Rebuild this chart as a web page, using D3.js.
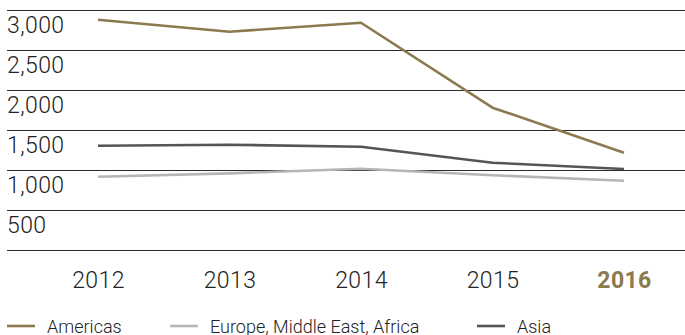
<!DOCTYPE html>
<html>
<head>
<meta charset="utf-8">
<script src="https://cdn.jsdelivr.net/npm/d3@7"></script>
<style>
  html, body { margin: 0; padding: 0; background: #fff; }
  svg { display: block; font-family: Roboto, "Liberation Sans", Arial, sans-serif; font-weight: 300; }
</style>
</head>
<body>
<svg id="chart" width="685" height="335"></svg>
<script>
// Sales by region, 2012–2016
const years = ["2012", "2013", "2014", "2015", "2016"];
const americas = [2879, 2729, 2841, 1779, 1216];
const emea = [916, 958, 1016, 934, 866];
const asia = [1304, 1316, 1291, 1091, 1012];
const yTicks = [0, 500, 1000, 1500, 2000, 2500, 3000];
const seriesNames = ["Americas", "Europe, Middle East, Africa", "Asia"];
const seriesColors = ["#8b7a50", "#b5b5b5", "#555555"];

const series = [
  { name: seriesNames[0], values: americas, color: seriesColors[0] },
  { name: seriesNames[1], values: emea, color: seriesColors[1] },
  { name: seriesNames[2], values: asia, color: seriesColors[2] }
];

const svg = d3.select("#chart");
const gridLeft = 7, gridRight = 685;

const x = d3.scalePoint().domain(years).range([98, 624]);
const y = d3.scaleLinear().domain([0, 3000]).range([250, 10]);

// Horizontal gridlines with labels sitting just under each line
const grid = svg.append("g");
grid.selectAll("line")
  .data(yTicks)
  .join("line")
  .attr("x1", gridLeft).attr("x2", gridRight)
  .attr("y1", d => Math.round(y(d)) + 0.5)
  .attr("y2", d => Math.round(y(d)) + 0.5)
  .attr("stroke", "#2a2a2a")
  .attr("stroke-width", 1);

grid.selectAll("text")
  .data(yTicks.filter(d => d > 0))
  .join("text")
  .attr("x", gridLeft)
  .attr("y", d => y(d) + 23)
  .attr("font-size", 23)
  .attr("letter-spacing", 0.4)
  .attr("fill", "#222")
  .text(d => d3.format(",")(d));

// Region lines
const line = d3.line()
  .x((d, i) => x(years[i]))
  .y(d => y(d));

svg.append("g").selectAll("path")
  .data(series)
  .join("path")
  .attr("d", d => line(d.values))
  .attr("fill", "none")
  .attr("stroke", d => d.color)
  .attr("stroke-width", 2.6)
  .attr("stroke-linejoin", "round");

// Year axis; the latest year is highlighted
const xAxis = d3.axisBottom(x).tickSize(0).tickPadding(0);
const ax = svg.append("g")
  .attr("transform", "translate(0,288)")
  .call(xAxis)
  .attr("font-family", null)
  .attr("font-size", null);
ax.select(".domain").remove();
ax.selectAll("text")
  .attr("dy", 0)
  .attr("font-size", 23)
  .attr("letter-spacing", 0.4)
  .attr("fill", d => d === years[years.length - 1] ? seriesColors[0] : "#222")
  .attr("font-weight", d => d === years[years.length - 1] ? "bold" : "300");

// Legend
const legendX = [7, 170, 477];
const legend = svg.append("g").selectAll("g")
  .data(series)
  .join("g")
  .attr("transform", (d, i) => `translate(${legendX[i]},326)`);
legend.append("line")
  .attr("x1", 0).attr("x2", 28)
  .attr("y1", 0).attr("y2", 0)
  .attr("stroke", d => d.color)
  .attr("stroke-width", 2.6);
legend.append("text")
  .attr("x", 40)
  .attr("y", 6.5)
  .attr("font-size", 18)
  .attr("fill", "#222")
  .text(d => d.name);
</script>
</body>
</html>
